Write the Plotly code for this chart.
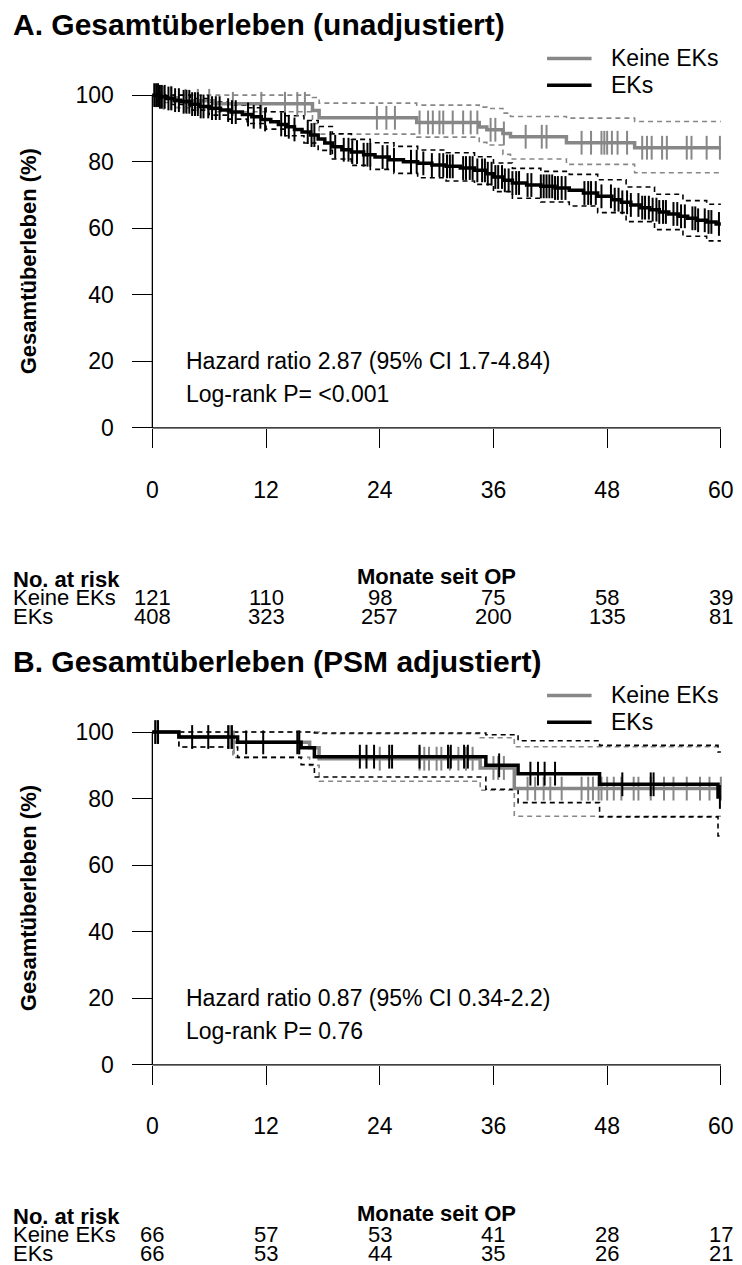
import plotly.graph_objects as go

W, H = 742, 1265
FONT = "Liberation Sans, Arial, sans-serif"
GRAY = "#878787"
BLACK = "#000000"

month_ticks = [0, 12, 24, 36, 48, 60]
surv_ticks = [0, 20, 40, 60, 80, 100]
group_names = ["Keine EKs", "EKs"]
group_colors = [GRAY, BLACK]
follow_up_end = 60

# ---------------- Panel A (unadjusted) ----------------
A_title = "A. Gesamtüberleben (unadjustiert)"
A_hr_text = "Hazard ratio 2.87 (95% CI 1.7-4.84)"
A_p_text = "Log-rank P= <0.001"

A_noek_t = [0, 1.0, 2.6, 6.5, 16.9, 17.6, 27.9, 34.5, 35.3, 37.0, 37.8, 43.7, 50.9]
A_noek_s = [100, 99.2, 98.3, 97.4, 95.4, 93.2, 91.8, 90.4, 89.6, 88.5, 87.5, 85.7, 84.2]
A_noek_hi = [100, 100, 100, 100, 99.3, 97.6, 97.0, 96.4, 96.0, 94.6, 93.6, 93.1, 92.1]
A_noek_lo = [100, 97.8, 96.2, 95.0, 91.5, 88.3, 87.4, 85.8, 85.0, 82.2, 80.8, 79.2, 76.7]
A_noek_cens = [1.2, 2.0, 3.5, 4.8, 6.0, 8.5, 11.5, 14.0, 15.3, 16.1, 23.7, 24.7, 25.6, 28.2,
               29.1, 29.6, 30.3, 30.7, 31.7, 32.8, 33.6, 34.3, 35.7, 36.2, 37.1, 39.4, 41.1,
               41.6, 45.3, 46.3, 47.4, 47.7, 48.0, 48.5, 49.1, 50.1, 51.7, 52.2, 52.7, 53.8,
               54.3, 56.4, 56.9, 58.5, 59.9]

A_ek_t = [0, 0.8, 1.5, 2.3, 3.0, 4.0, 5.0, 6.0, 7.2, 8.3, 9.5, 10.5, 11.5, 12.5, 13.3, 14.2,
          15.0, 15.8, 16.7, 17.5, 18.2, 19.0, 20.0, 21.0, 22.3, 23.5, 25.0, 26.5, 28.0, 29.5,
          31.0, 32.5, 34.0, 35.2, 36.0, 37.0, 38.0, 39.5, 41.0, 42.5, 44.0, 45.5, 47.0, 48.5,
          49.5, 50.5, 51.5, 52.5, 53.5, 54.5, 55.5, 56.5, 57.5, 58.5, 59.5]
A_ek_s = [100, 99.5, 99.0, 98.5, 98.0, 97.3, 96.6, 96.1, 95.5, 94.9, 94.2, 93.5, 92.7, 92.0,
          91.2, 90.5, 89.7, 88.9, 88.0, 86.8, 85.6, 84.5, 83.6, 82.9, 82.1, 81.4, 80.6, 80.0,
          79.5, 79.0, 78.6, 78.1, 77.4, 76.4, 75.4, 74.4, 73.6, 73.0, 72.6, 72.1, 71.4, 70.6,
          69.6, 68.6, 67.8, 67.0, 66.2, 65.6, 64.9, 64.3, 63.6, 63.0, 62.4, 61.9, 61.3]
A_ek_ci_t = [0, 2, 4, 6, 8, 10, 12, 14, 16, 17.5, 19, 21, 23, 25.5, 28, 31, 34, 36, 38, 41,
             44, 47, 50, 53, 56, 58.5]
A_ek_hi = [100, 100, 99.0, 97.9, 97.0, 96.2, 95.0, 93.8, 92.4, 90.6, 88.4, 86.7, 85.7, 84.6,
           83.5, 82.7, 81.5, 79.6, 78.0, 77.1, 76.2, 74.6, 72.4, 70.2, 68.3, 67.2]
A_ek_lo = [100, 97.2, 95.5, 94.0, 92.8, 91.5, 89.8, 87.8, 85.6, 83.4, 80.8, 78.9, 77.7, 76.5,
           75.2, 74.2, 73.2, 71.0, 69.0, 67.9, 66.7, 64.7, 62.0, 59.6, 57.6, 56.2]
A_ek_cens = [0.2, 0.4, 0.6, 0.8, 1.0, 1.3, 1.7, 2.0, 2.4, 2.8, 3.3, 3.6, 3.9, 4.2, 4.5, 4.8,
             5.1, 5.4, 5.9, 6.3, 6.7, 7.1, 8.0, 8.4, 8.8, 10.1, 10.7, 11.4, 11.9, 13.6, 14.0,
             14.4, 15.0, 16.4, 16.8, 17.1, 18.8, 19.3, 20.2, 20.7, 21.1, 21.6, 22.3, 22.7,
             23.0, 24.3, 24.8, 25.5, 27.3, 27.9, 28.6, 29.5, 30.3, 30.7, 31.1, 31.4, 31.7,
             32.8, 33.1, 33.5, 33.8, 34.3, 34.8, 35.1, 35.4, 35.8, 36.2, 36.5, 36.9, 37.2,
             37.6, 38.0, 38.4, 38.7, 39.6, 40.0, 41.0, 41.3, 41.6, 41.9, 42.2, 42.5, 42.8,
             43.2, 43.6, 45.6, 46.0, 46.3, 46.8, 47.4, 48.4, 48.8, 49.2, 49.6, 50.1, 50.5,
             51.3, 51.7, 52.0, 52.4, 52.8, 53.2, 53.5, 53.9, 54.2, 55.0, 55.4, 55.8, 56.2,
             57.0, 57.3, 57.6, 58.3, 58.7, 59.0, 59.8]

A_risk_noek = [121, 110, 98, 75, 58, 39]
A_risk_ek = [408, 323, 257, 200, 135, 81]

# ---------------- Panel B (PSM adjusted) ----------------
B_title = "B. Gesamtüberleben (PSM adjustiert)"
B_hr_text = "Hazard ratio 0.87 (95% CI 0.34-2.2)"
B_p_text = "Log-rank P= 0.76"

B_noek_t = [0, 2.8, 8.5, 16.6, 17.6, 34.6, 38.2]
B_noek_s = [100, 98.5, 96.9, 95.3, 92.0, 89.2, 83.0]
B_noek_hi = [100, 100, 100, 100, 99.5, 98.3, 95.6]
B_noek_lo = [100, 95.5, 92.4, 90.0, 85.2, 82.5, 74.7]
B_noek_cens = [0.5, 8.2, 8.6, 15.5, 24.0, 28.2, 28.7, 29.2, 30.0, 30.5, 31.4, 32.3, 33.1,
               33.8, 36.0, 36.5, 37.1, 39.6, 40.4, 41.3, 42.0, 43.2, 45.3, 46.0, 46.5, 47.1,
               47.4, 48.0, 48.7, 49.5, 50.8, 51.3, 52.6, 54.0, 55.0, 56.4, 57.8, 58.8, 60.0]

B_ek_t = [0, 2.8, 9.0, 15.7, 17.1, 35.2, 38.6, 47.2, 59.7]
B_ek_s = [100, 98.5, 96.9, 95.3, 92.6, 90.0, 87.5, 84.3, 80.5]
B_ek_hi = [100, 100, 100, 100, 99.7, 99.2, 97.4, 96.0, 94.0]
B_ek_lo = [100, 95.5, 92.4, 90.2, 86.5, 82.8, 78.8, 74.5, 68.8]
B_ek_cens = [0.3, 0.6, 4.2, 5.9, 8.0, 8.4, 9.9, 11.7, 15.3, 15.5, 21.9, 22.6, 23.4, 25.0,
             25.3, 28.2, 31.2, 31.5, 32.9, 33.3, 36.6, 39.9, 40.7, 41.4, 42.5, 49.6, 52.6,
             52.9, 59.9]

B_risk_noek = [66, 57, 53, 41, 28, 17]
B_risk_ek = [66, 53, 44, 35, 26, 21]


# ---------------- helpers ----------------
def px(p):
    return p / W


def py(p):
    return 1 - p / H


def step_at(ts, ss, t):
    v = ss[0]
    for ti, si in zip(ts, ss):
        if ti <= t:
            v = si
        else:
            break
    return v


def extend(ts, ss):
    return list(ts) + [follow_up_end], list(ss) + [ss[-1]]


fig = go.Figure()

# geometry (pixels)
X0_PIX, X60_PIX = 153.0, 727.7
PPM = (X60_PIX - X0_PIX) / 60.0
PPP = 3.36
XR = [-0.6, 60.6]
YR = [-2, 102]
panels = [
    dict(zero=426.0, xa="x", ya="y"),
    dict(zero=1069.0, xa="x2", ya="y2"),
]


def add_panel(pi, noek, ek, ek_ci):
    xa, ya = panels[pi]["xa"], panels[pi]["ya"]
    nt, ns, nhi, nlo, ncens = noek
    et, es, ecens = ek
    ect, ehi, elo = ek_ci
    dash = "5px,4px"
    for tt, yy, col in [(nt, nhi, GRAY), (nt, nlo, GRAY), (ect, ehi, BLACK), (ect, elo, BLACK)]:
        x, y = extend(tt, yy)
        fig.add_trace(go.Scatter(x=x, y=y, mode="lines", line=dict(color=col, width=1.6, dash=dash, shape="hv"),
                                 xaxis=xa, yaxis=ya, showlegend=False, hoverinfo="skip"))
    for tt, yy, cens, col, name in [(nt, ns, ncens, GRAY, group_names[0]), (et, es, ecens, BLACK, group_names[1])]:
        x, y = extend(tt, yy)
        fig.add_trace(go.Scatter(x=x, y=y, mode="lines", line=dict(color=col, width=3.5, shape="hv"),
                                 xaxis=xa, yaxis=ya, name=name, showlegend=False))
        fig.add_trace(go.Scatter(x=cens, y=[step_at(tt, yy, c) for c in cens], mode="markers",
                                 marker=dict(symbol="line-ns", size=17, line=dict(color=col, width=2)),
                                 xaxis=xa, yaxis=ya, name=name, showlegend=False, cliponaxis=False))


add_panel(0, (A_noek_t, A_noek_s, A_noek_hi, A_noek_lo, A_noek_cens),
          (A_ek_t, A_ek_s, A_ek_cens), (A_ek_ci_t, A_ek_hi, A_ek_lo))
add_panel(1, (B_noek_t, B_noek_s, B_noek_hi, B_noek_lo, B_noek_cens),
          (B_ek_t, B_ek_s, B_ek_cens), (B_ek_t, B_ek_hi, B_ek_lo))

xdom = [px(X0_PIX + XR[0] * PPM), px(X0_PIX + XR[1] * PPM)]
layout_axes = {}
for i, p in enumerate(panels):
    z = p["zero"]
    ydom = [py(z - YR[0] * PPP), py(z - YR[1] * PPP)]
    sfx = "" if i == 0 else "2"
    layout_axes["xaxis" + sfx] = dict(
        domain=xdom, range=XR, anchor="free", position=py(z), tickvals=month_ticks,
        ticks="outside", ticklen=19, tickwidth=1.2, tickcolor="black", showline=False,
        showgrid=False, zeroline=False, tickfont=dict(size=23, color="black", family=FONT),
        ticklabelstandoff=22)
    layout_axes["yaxis" + sfx] = dict(
        domain=ydom, range=YR, anchor="free", position=px(X0_PIX), tickvals=surv_ticks,
        ticks="outside", ticklen=20, tickwidth=1.2, tickcolor="black", showline=False,
        showgrid=False, zeroline=False, tickfont=dict(size=23, color="black", family=FONT),
        ticklabelstandoff=14)

shapes = []
for p in panels:
    shapes.append(dict(type="line", xref=p["xa"], yref=p["ya"], x0=0, x1=0, y0=0, y1=100,
                       line=dict(color="black", width=1.3)))
    shapes.append(dict(type="line", xref=p["xa"], yref=p["ya"], x0=0, x1=follow_up_end, y0=0, y1=0,
                       line=dict(color="black", width=1.3)))

annotations = []
OFF = 643
TABLE_FONT = 22
for i, (title, hr, pv, rn, re) in enumerate([
        (A_title, A_hr_text, A_p_text, A_risk_noek, A_risk_ek),
        (B_title, B_hr_text, B_p_text, B_risk_noek, B_risk_ek)]):
    o = OFF * i
    xa = panels[i]["xa"]
    annotations.append(dict(text="<b>" + title + "</b>", x=px(10), y=py(19 + o), xref="paper", yref="paper",
                            xanchor="left", yanchor="middle", showarrow=False, font=dict(size=30)))
    annotations.append(dict(text="<b>Gesamtüberleben (%)</b>", x=px(28), y=py(258 + o), xref="paper",
                            yref="paper", textangle=-90, xanchor="center", yanchor="middle",
                            showarrow=False, font=dict(size=22)))
    annotations.append(dict(text=hr, x=px(185), y=py(358 + o), xref="paper", yref="paper",
                            xanchor="left", yanchor="middle", showarrow=False, font=dict(size=23)))
    annotations.append(dict(text=pv, x=px(185), y=py(392 + o), xref="paper", yref="paper",
                            xanchor="left", yanchor="middle", showarrow=False, font=dict(size=23)))
    annotations.append(dict(text="<b>Monate seit OP</b>", x=30, y=py(576 + o), xref=xa, yref="paper",
                            xanchor="center", yanchor="middle", showarrow=False, font=dict(size=TABLE_FONT)))
    annotations.append(dict(text="<b>No. at risk</b>", x=px(10), y=py(579 + o), xref="paper", yref="paper",
                            xanchor="left", yanchor="middle", showarrow=False, font=dict(size=TABLE_FONT)))
    for name, row, yy in [(group_names[0], rn, 597), (group_names[1], re, 616)]:
        annotations.append(dict(text=name, x=px(10), y=py(yy + o), xref="paper", yref="paper",
                                xanchor="left", yanchor="middle", showarrow=False, font=dict(size=TABLE_FONT)))
        for t, n in zip(month_ticks, row):
            annotations.append(dict(text=str(n), x=t, y=py(yy + o), xref=xa, yref="paper",
                                    xanchor="center", yanchor="middle", showarrow=False,
                                    font=dict(size=TABLE_FONT)))
    # legend (line sample + label) for each group
    for name, col, yy in zip(group_names, group_colors, [53, 80]):
        shapes.append(dict(type="line", xref="paper", yref="paper", x0=px(552), x1=px(597),
                           y0=py(yy + o), y1=py(yy + o), line=dict(color=col, width=3.5)))
        annotations.append(dict(text=name, x=px(615), y=py(yy + o), xref="paper", yref="paper",
                                xanchor="left", yanchor="middle", showarrow=False, font=dict(size=23)))

fig.update_layout(
    width=W, height=H, margin=dict(l=0, r=0, t=0, b=0),
    paper_bgcolor="white", plot_bgcolor="white",
    font=dict(family=FONT, color="black"),
    showlegend=False,
    shapes=shapes, annotations=annotations, **layout_axes,
)

fig.write_html("out.html")
